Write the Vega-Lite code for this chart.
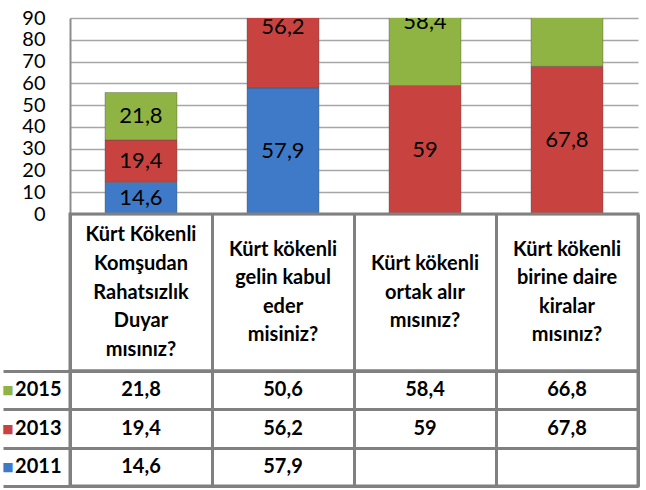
{
  "$schema": "https://vega.github.io/schema/vega-lite/v6.json",
  "padding": {"left": 0, "top": 8, "right": 10, "bottom": 2},
  "background": "white",
  "bounds": "flush",
  "spacing": 0,
  "config": {
    "font": "Lato",
    "view": {"stroke": null},
    "locale": {"number": {"decimal": ",", "thousands": ".", "grouping": [3], "currency": ["", ""]}}
  },
  "datasets": {
    "head": [
      {"q": "Kürt Kökenli Komşudan Rahatsızlık Duyar mısınız?", "i": 1, "line": "Kürt Kökenli"},
      {"q": "Kürt Kökenli Komşudan Rahatsızlık Duyar mısınız?", "i": 2, "line": "Komşudan"},
      {"q": "Kürt Kökenli Komşudan Rahatsızlık Duyar mısınız?", "i": 3, "line": "Rahatsızlık"},
      {"q": "Kürt Kökenli Komşudan Rahatsızlık Duyar mısınız?", "i": 4, "line": "Duyar"},
      {"q": "Kürt Kökenli Komşudan Rahatsızlık Duyar mısınız?", "i": 5, "line": "mısınız?"},
      {"q": "Kürt kökenli gelin kabul eder misiniz?", "i": 1, "line": "Kürt kökenli"},
      {"q": "Kürt kökenli gelin kabul eder misiniz?", "i": 2, "line": "gelin kabul"},
      {"q": "Kürt kökenli gelin kabul eder misiniz?", "i": 3, "line": "eder"},
      {"q": "Kürt kökenli gelin kabul eder misiniz?", "i": 4, "line": "misiniz?"},
      {"q": "Kürt kökenli ortak alır mısınız?", "i": 1, "line": "Kürt kökenli"},
      {"q": "Kürt kökenli ortak alır mısınız?", "i": 2, "line": "ortak alır"},
      {"q": "Kürt kökenli ortak alır mısınız?", "i": 3, "line": "mısınız?"},
      {"q": "Kürt kökenli birine daire kiralar mısınız?", "i": 1, "line": "Kürt kökenli"},
      {"q": "Kürt kökenli birine daire kiralar mısınız?", "i": 2, "line": "birine daire"},
      {"q": "Kürt kökenli birine daire kiralar mısınız?", "i": 3, "line": "kiralar"},
      {"q": "Kürt kökenli birine daire kiralar mısınız?", "i": 4, "line": "mısınız?"}
    ],
    "d": [
      {"q": "Kürt Kökenli Komşudan Rahatsızlık Duyar mısınız?", "year": "2011", "value": 14.6},
      {"q": "Kürt Kökenli Komşudan Rahatsızlık Duyar mısınız?", "year": "2013", "value": 19.4},
      {"q": "Kürt Kökenli Komşudan Rahatsızlık Duyar mısınız?", "year": "2015", "value": 21.8},
      {"q": "Kürt kökenli gelin kabul eder misiniz?", "year": "2011", "value": 57.9},
      {"q": "Kürt kökenli gelin kabul eder misiniz?", "year": "2013", "value": 56.2},
      {"q": "Kürt kökenli gelin kabul eder misiniz?", "year": "2015", "value": 50.6},
      {"q": "Kürt kökenli ortak alır mısınız?", "year": "2013", "value": 59},
      {"q": "Kürt kökenli ortak alır mısınız?", "year": "2015", "value": 58.4},
      {"q": "Kürt kökenli birine daire kiralar mısınız?", "year": "2013", "value": 67.8},
      {"q": "Kürt kökenli birine daire kiralar mısınız?", "year": "2015", "value": 66.8}
    ]
  },
  "vconcat": [
    {
      "width": 568,
      "height": 196,
      "data": {"name": "d"},
      "transform": [
        {"stack": "value", "groupby": ["q"], "sort": [{"field": "year", "order": "ascending"}], "as": ["v0", "v1"]},
        {"calculate": "(datum.v0 + datum.v1) / 2", "as": "mid"}
      ],
      "encoding": {
        "x": {"field": "q", "type": "nominal", "sort": null, "scale": {"paddingInner": 0.493, "paddingOuter": 0.2465}, "axis": null}
      },
      "layer": [
        {
          "mark": {"type": "bar", "clip": true, "stroke": "#4a4a4a", "strokeWidth": 0.6, "strokeOpacity": 0.6},
          "encoding": {
            "y": {
              "field": "v0", "type": "quantitative",
              "scale": {"domain": [0, 90], "nice": false},
              "axis": {
                "values": [0, 10, 20, 30, 40, 50, 60, 70, 80, 90],
                "title": null, "grid": true, "gridColor": "#a6a6a6", "gridWidth": 1.5,
                "domainColor": "#8c8c8c", "domainWidth": 2, "ticks": false,
                "labelFontSize": 20, "labelPadding": 25, "labelColor": "black",
                "labelOverlap": false, "labelFlush": false
              }
            },
            "y2": {"field": "v1"},
            "color": {
              "field": "year", "type": "nominal",
              "scale": {"domain": ["2011", "2013", "2015"], "range": ["#3f7ac8", "#c8433f", "#8fb443"]},
              "legend": null
            }
          }
        },
        {
          "mark": {"type": "text", "clip": true, "fontSize": 22, "color": "black"},
          "encoding": {
            "y": {
              "field": "mid", "type": "quantitative",
              "scale": {"domain": [0, 90], "nice": false},
              "axis": {
                "values": [0, 10, 20, 30, 40, 50, 60, 70, 80, 90],
                "title": null, "grid": true, "gridColor": "#a6a6a6", "gridWidth": 1.5,
                "domainColor": "#8c8c8c", "domainWidth": 2, "ticks": false,
                "labelFontSize": 20, "labelPadding": 25, "labelColor": "black",
                "labelOverlap": false, "labelFlush": false
              }
            },
            "text": {"field": "value", "type": "quantitative", "format": ".1~f"}
          }
        }
      ]
    },
    {
      "width": 568,
      "height": 157,
      "view": {"stroke": "#808080", "strokeWidth": 3},
      "data": {"name": "head"},
      "transform": [
        {"joinaggregate": [{"op": "count", "as": "n"}], "groupby": ["q"]},
        {"calculate": "datum.i - (datum.n + 1) / 2", "as": "pos"}
      ],
      "mark": {"type": "text", "fontWeight": "bold", "fontSize": 20, "color": "black"},
      "encoding": {
        "x": {
          "field": "q", "type": "nominal", "sort": null,
          "axis": {"grid": true, "tickBand": "extent", "labels": false, "ticks": false, "domain": false, "title": null, "gridColor": "#808080", "gridWidth": 3}
        },
        "y": {"field": "pos", "type": "quantitative", "scale": {"domain": [2.75, -2.75], "nice": false, "zero": false}, "axis": null},
        "text": {"field": "line"}
      }
    },
    {
      "width": 568,
      "height": 115,
      "view": {"stroke": "#808080", "strokeWidth": 3},
      "data": {"name": "d"},
      "resolve": {"axis": {"y": "independent"}},
      "layer": [
        {
          "mark": {"type": "text", "fontWeight": "bold", "fontSize": 20, "color": "black"},
          "encoding": {
            "x": {
              "field": "q", "type": "nominal", "sort": null,
              "axis": {"grid": true, "tickBand": "extent", "labels": false, "ticks": false, "domain": false, "title": null, "gridColor": "#808080", "gridWidth": 3}
            },
            "y": {
              "field": "year", "type": "nominal", "sort": ["2015", "2013", "2011"],
              "axis": {"orient": "left", "grid": true, "tickBand": "extent", "gridColor": "#808080", "gridWidth": 3, "ticks": true, "tickSize": 67, "tickWidth": 3, "tickColor": "#808080", "labels": false, "domain": false, "title": null}
            },
            "text": {"field": "value", "type": "quantitative", "format": ".1~f"}
          }
        },
        {
          "mark": {"type": "text", "opacity": 0},
          "encoding": {
            "y": {
              "field": "year", "type": "nominal", "sort": ["2015", "2013", "2011"],
              "axis": {"orient": "left", "grid": false, "ticks": false, "domain": false, "title": null, "labelFontSize": 20, "labelFontWeight": "bold", "labelColor": "black", "labelPadding": 9}
            },
            "text": {"value": ""}
          }
        },
        {
          "mark": {"type": "text", "opacity": 0},
          "encoding": {
            "y": {
              "field": "year", "type": "nominal", "sort": ["2015", "2013", "2011"],
              "axis": {
                "orient": "left", "grid": false, "ticks": false, "domain": false, "title": null,
                "labelExpr": "'■'", "labelFont": "DejaVu Sans", "labelFontSize": 12, "labelPadding": 57,
                "labelColor": {"condition": [{"test": "datum.value === '2015'", "value": "#8fb443"}, {"test": "datum.value === '2013'", "value": "#c8433f"}], "value": "#3f7ac8"}
              }
            },
            "text": {"value": ""}
          }
        }
      ]
    }
  ]
}
